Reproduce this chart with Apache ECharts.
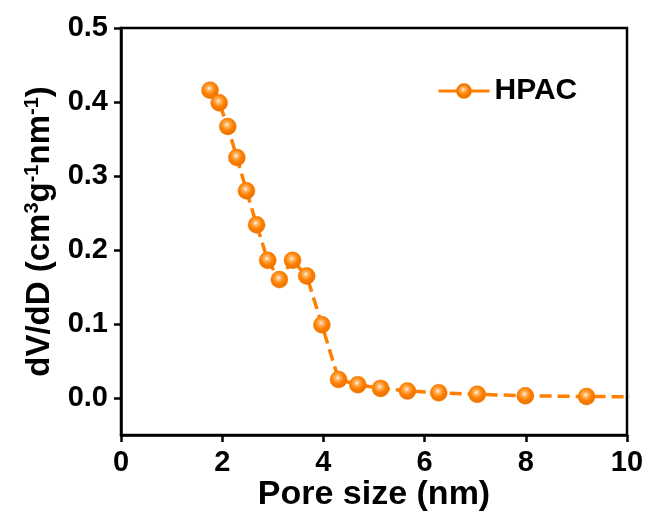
<!DOCTYPE html>
<html>
<head>
<meta charset="utf-8">
<title>HPAC pore size distribution</title>
<script src="https://cdn.jsdelivr.net/npm/echarts@6/dist/echarts.min.js"></script>
<style>
  html, body { margin: 0; padding: 0; background: #fff; }
  #chart { width: 646px; height: 515px; }
</style>
</head>
<body>
<div id="chart"></div>
<script>
// Pore size (nm) and dV/dD (cm3 g-1 nm-1) for HPAC
const poreSize = [1.76, 1.94, 2.11, 2.29, 2.48, 2.68, 2.90, 3.13, 3.39, 3.67,
                  3.97, 4.30, 4.68, 5.13, 5.66, 6.28, 7.04, 7.99, 9.20, 11.2];
const dVdD = [0.416, 0.399, 0.367, 0.325, 0.280, 0.234, 0.186, 0.160, 0.186, 0.165,
              0.099, 0.025, 0.018, 0.013, 0.0095, 0.007, 0.005, 0.003, 0.002, 0.0014];

const seriesName = 'HPAC';
const xTicks = [0, 2, 4, 6, 8, 10];
const yTicks = [0.0, 0.1, 0.2, 0.3, 0.4, 0.5];

const FONT = "'Liberation Sans', Arial, sans-serif";
const ORANGE = '#FF8000';

// glossy ball marker
const ballFill = new echarts.graphic.RadialGradient(0.45, 0.4, 0.62, [
  { offset: 0, color: '#FFF8F0' },
  { offset: 0.2, color: '#FFB868' },
  { offset: 0.55, color: '#FF8000' },
  { offset: 1, color: '#E66F00' }
]);

const chart = echarts.init(document.getElementById('chart'), null, { renderer: 'canvas' });

chart.setOption({
  animation: false,
  backgroundColor: '#fff',
  grid: {
    left: 121, right: 19, top: 28, bottom: 80,
    outerBoundsMode: 'none', containLabel: false,
    show: true, borderColor: '#000', borderWidth: 2.5, backgroundColor: 'transparent'
  },
  legend: {
    left: 437, top: 76, padding: 0,
    itemWidth: 51, itemHeight: 17, itemGap: 5,
    textStyle: { fontFamily: FONT, fontSize: 30, fontWeight: 'bold', color: '#000', padding: [0, 0, 0, 0] },
    lineStyle: { type: 'solid', width: 3 },
    data: [seriesName]
  },
  xAxis: {
    type: 'value', min: 0, max: 10, interval: 2,
    name: 'Pore size (nm)', nameLocation: 'middle', nameGap: 43, nameMoveOverlap: false,
    nameTextStyle: { fontFamily: FONT, fontSize: 34, fontWeight: 'bold', color: '#000' },
    axisLine: { onZero: false, lineStyle: { color: '#000', width: 2.5 } },
    axisTick: { show: true, inside: false, length: 7, lineStyle: { width: 2.5, color: '#000' } },
    axisLabel: {
      customValues: xTicks, margin: 13,
      fontFamily: FONT, fontSize: 29, fontWeight: 'bold', color: '#000'
    },
    splitLine: { show: false }
  },
  yAxis: {
    type: 'value', min: -0.05, max: 0.5,
    name: '{a|dV/dD (cm}{s|3}{a|g}{s|-1}{a|nm}{s|-1}{a|)}',
    nameLocation: 'middle', nameGap: 63, nameRotate: 90, nameMoveOverlap: false,
    nameTextStyle: {
      rich: {
        a: { fontFamily: FONT, fontSize: 33, fontWeight: 'bold', color: '#000', lineHeight: 36 },
        s: { fontFamily: FONT, fontSize: 20, fontWeight: 'bold', color: '#000', verticalAlign: 'top', lineHeight: 36 }
      }
    },
    axisLine: { onZero: false, lineStyle: { color: '#000', width: 2.5 } },
    axisTick: { show: true, inside: false, length: 7, customValues: yTicks, lineStyle: { width: 2.5, color: '#000' } },
    axisLabel: {
      customValues: yTicks, margin: 13,
      formatter: v => v.toFixed(1),
      fontFamily: FONT, fontSize: 29, fontWeight: 'bold', color: '#000'
    },
    splitLine: { show: false }
  },
  series: [{
    name: seriesName,
    type: 'line',
    data: poreSize.map((x, i) => [x, dVdD[i]]),
    clip: true,
    symbol: 'circle',
    symbolSize: 17,
    showAllSymbol: true,
    lineStyle: { color: ORANGE, width: 3.5, type: [12, 6] },
    itemStyle: { color: ballFill, borderColor: '#F07800', borderWidth: 0.5 }
  }]
});
</script>
</body>
</html>
